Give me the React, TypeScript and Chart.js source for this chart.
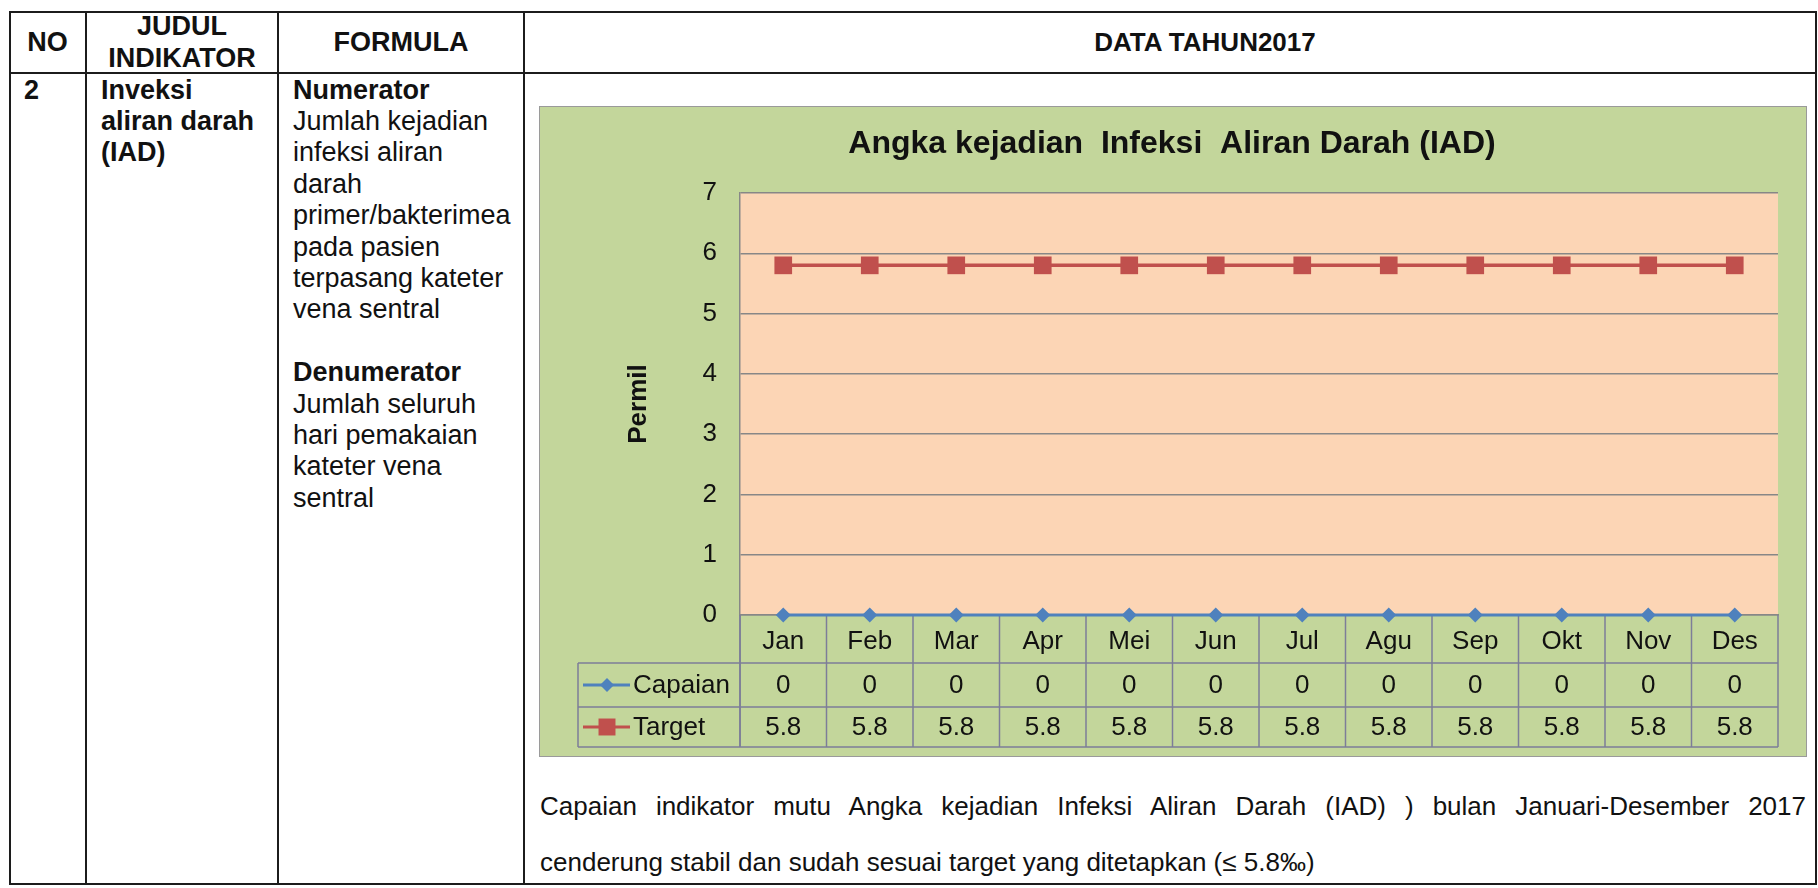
import React, { useEffect, useRef } from "react";
import { Chart, registerables } from "chart.js";

Chart.register(...registerables);

// ---------- data ----------
const categories = ["Jan", "Feb", "Mar", "Apr", "Mei", "Jun", "Jul", "Agu", "Sep", "Okt", "Nov", "Des"];
const capaian = [0, 0, 0, 0, 0, 0, 0, 0, 0, 0, 0, 0];
const target = [5.8, 5.8, 5.8, 5.8, 5.8, 5.8, 5.8, 5.8, 5.8, 5.8, 5.8, 5.8];
const yTicks = [0, 1, 2, 3, 4, 5, 6, 7];
const seriesNames = ["Capaian", "Target"];
const chartTitle = "Angka kejadian  Infeksi  Aliran Darah (IAD)";
const yAxisTitle = "Permil";

const headerJudul = ["JUDUL", "INDIKATOR"];
const judulLines = ["Inveksi", "aliran darah", "(IAD)"];
const formulaLines: [string, boolean][] = [
  ["Numerator", true],
  ["Jumlah kejadian", false],
  ["infeksi aliran", false],
  ["darah", false],
  ["primer/bakterimea", false],
  ["pada pasien", false],
  ["terpasang kateter", false],
  ["vena sentral", false],
  ["\u00a0", false],
  ["Denumerator", true],
  ["Jumlah seluruh", false],
  ["hari pemakaian", false],
  ["kateter vena", false],
  ["sentral", false],
];
const paragraph1 = "Capaian indikator mutu Angka kejadian Infeksi Aliran Darah (IAD) ) bulan Januari-Desember 2017";
const paragraph2 = "cenderung stabil dan sudah sesuai target yang ditetapkan (\u2264 5.8\u2030)";

// ---------- styles ----------
const FONT = "'Liberation Sans', Arial, Helvetica, sans-serif";
const BLUE = "#4F81BD";
const RED = "#C0504D";
const GREEN_BG = "#C3D69B";
const PLOT_BG = "#FCD5B5";
const GRID = "#878787";
const TABLE_LINE = "#7d7d99";
const TEXT = "#111111";

const plotBgPlugin = {
  id: "plotBg",
  beforeDraw(chart: any) {
    const { ctx, chartArea } = chart;
    ctx.save();
    ctx.fillStyle = PLOT_BG;
    ctx.fillRect(chartArea.left, chartArea.top, chartArea.right - chartArea.left, chartArea.bottom - chartArea.top);
    ctx.restore();
  },
};

function drawMarker(ctx: CanvasRenderingContext2D, style: string, x: number, y: number, r: number, color: string) {
  ctx.save();
  ctx.fillStyle = color;
  ctx.beginPath();
  if (style === "rectRot") {
    ctx.moveTo(x, y - r);
    ctx.lineTo(x + r, y);
    ctx.lineTo(x, y + r);
    ctx.lineTo(x - r, y);
    ctx.closePath();
  } else {
    const s = r * Math.SQRT1_2;
    ctx.rect(x - s, y - s, 2 * s, 2 * s);
  }
  ctx.fill();
  ctx.restore();
}

const dataTablePlugin = {
  id: "dataTable",
  beforeDatasetsDraw(chart: any) {
    const { ctx, chartArea, scales } = chart;
    const xs = scales.x;
    const n = chart.data.labels.length;
    const step = xs.getPixelForValue(1) - xs.getPixelForValue(0);
    const left = chartArea.left;
    const right = chartArea.right;
    const bottom = chartArea.bottom;
    const catRowH = 48;
    const rowHs = [44, 40];
    const legendLeft = 38;
    const catBottom = bottom + catRowH;
    const tableBottom = catBottom + rowHs[0] + rowHs[1];

    ctx.save();
    ctx.strokeStyle = TABLE_LINE;
    ctx.lineWidth = 1.5;
    const line = (x1: number, y1: number, x2: number, y2: number) => {
      ctx.beginPath();
      ctx.moveTo(x1, y1);
      ctx.lineTo(x2, y2);
      ctx.stroke();
    };
    for (let i = 0; i <= n; i++) {
      const px = i < n ? xs.getPixelForValue(i) - step / 2 : xs.getPixelForValue(n - 1) + step / 2;
      line(px, bottom, px, tableBottom);
    }
    line(legendLeft, catBottom, right, catBottom);
    line(legendLeft, catBottom + rowHs[0], right, catBottom + rowHs[0]);
    line(legendLeft, tableBottom, right, tableBottom);
    line(legendLeft, catBottom, legendLeft, tableBottom);
    line(left, bottom, left, tableBottom);

    ctx.font = `26px ${FONT}`;
    ctx.fillStyle = TEXT;
    ctx.textBaseline = "middle";
    let y0 = catBottom;
    chart.data.datasets.forEach((ds: any, r: number) => {
      const cy = y0 + rowHs[r] / 2;
      ctx.textAlign = "center";
      ds.data.forEach((v: number, i: number) => {
        ctx.fillText(String(v), xs.getPixelForValue(i), cy + 1);
      });
      // legend key
      ctx.save();
      ctx.strokeStyle = ds.borderColor;
      ctx.lineWidth = 3;
      ctx.beginPath();
      ctx.moveTo(legendLeft + 5, cy);
      ctx.lineTo(legendLeft + 52, cy);
      ctx.stroke();
      ctx.restore();
      drawMarker(ctx, ds.pointStyle, legendLeft + 29, cy, ds.pointStyle === "rect" ? 12 : 7, ds.backgroundColor);
      ctx.textAlign = "left";
      ctx.fillStyle = TEXT;
      ctx.fillText(ds.label, legendLeft + 55, cy + 1);
      y0 += rowHs[r];
    });
    ctx.restore();
  },
};

const abs = (left: number, top: number, extra: React.CSSProperties = {}): React.CSSProperties => ({
  position: "absolute",
  left,
  top,
  ...extra,
});

const LINE_C = "#1c1c1c";

export default function App() {
  const canvasRef = useRef<HTMLCanvasElement>(null);

  useEffect(() => {
    const chart = new Chart(canvasRef.current as HTMLCanvasElement, {
      type: "line",
      data: {
        labels: categories,
        datasets: [
          {
            label: seriesNames[0],
            data: capaian,
            borderColor: BLUE,
            backgroundColor: BLUE,
            borderWidth: 3,
            pointStyle: "rectRot",
            pointRadius: 7.5,
            pointBorderWidth: 0,
            clip: false,
          },
          {
            label: seriesNames[1],
            data: target,
            borderColor: RED,
            backgroundColor: RED,
            borderWidth: 3.5,
            pointStyle: "rect",
            pointRadius: 12.5,
            pointBorderWidth: 0,
            clip: false,
          },
        ],
      } as any,
      options: {
        responsive: false,
        animation: false,
        devicePixelRatio: 1,
        layout: { padding: { left: 26, right: 28, top: 0, bottom: 0 } },
        plugins: {
          legend: { display: false },
          tooltip: { enabled: false },
          title: {
            display: true,
            text: chartTitle,
            color: TEXT,
            font: { family: FONT, size: 32, weight: "bold", lineHeight: 1.2 },
            padding: { top: 18, bottom: 29.6 },
          },
        },
        scales: {
          x: {
            offset: true,
            grid: { display: false },
            border: { display: true, color: GRID, width: 1.5 },
            ticks: {
              font: { family: FONT, size: 26 },
              color: TEXT,
              padding: 3,
              maxRotation: 0,
              autoSkip: false,
            },
            afterFit: (s: any) => {
              s.height = 141;
            },
          },
          y: {
            min: 0,
            max: 7,
            afterBuildTicks: (s: any) => {
              s.ticks = yTicks.map((v) => ({ value: v }));
            },
            ticks: { font: { family: FONT, size: 26 }, color: TEXT, padding: 23 },
            grid: { color: GRID, lineWidth: 1.5, drawTicks: false },
            border: { display: true, color: GRID, width: 1.5 },
            title: {
              display: true,
              text: yAxisTitle,
              color: TEXT,
              font: { family: FONT, size: 26, weight: "bold", lineHeight: 1.2 },
              padding: { top: 57, bottom: 0 },
            },
            afterFit: (s: any) => {
              s.width = 174;
            },
          },
        },
      } as any,
      plugins: [plotBgPlugin, dataTablePlugin],
    });
    return () => chart.destroy();
  }, []);

  const boldHead: React.CSSProperties = {
    fontFamily: FONT,
    fontWeight: "bold",
    fontSize: 27,
    color: TEXT,
    textAlign: "center",
    lineHeight: "32px",
    whiteSpace: "nowrap",
  };

  const paraStyle: React.CSSProperties = {
    fontFamily: FONT,
    fontSize: 26,
    color: TEXT,
    lineHeight: "30px",
    whiteSpace: "nowrap",
  };

  return (
    <div style={{ position: "absolute", left: 0, top: 0, width: 1818, height: 888, background: "#ffffff", overflow: "hidden" }}>
      {/* table frame */}
      <div style={abs(9, 11, { width: 1808, height: 874, border: `2px solid ${LINE_C}`, boxSizing: "border-box" })} />
      <div style={abs(85, 11, { width: 2, height: 874, background: LINE_C })} />
      <div style={abs(277, 11, { width: 2, height: 874, background: LINE_C })} />
      <div style={abs(523, 11, { width: 2, height: 874, background: LINE_C })} />
      <div style={abs(9, 72, { width: 1808, height: 2, background: LINE_C })} />

      {/* headers */}
      <div style={abs(9, 26, { ...boldHead, width: 77 })}>NO</div>
      <div style={abs(86, 10, { ...boldHead, width: 192 })}>
        {headerJudul[0]}
        <br />
        {headerJudul[1]}
      </div>
      <div style={abs(278, 26, { ...boldHead, width: 246 })}>FORMULA</div>
      <div style={abs(1205 - 150, 26, { ...boldHead, width: 300, fontSize: 26 })}>DATA TAHUN2017</div>

      {/* row 2 */}
      <div style={abs(24, 74.6, { ...boldHead, textAlign: "left", lineHeight: "31.4px" })}>2</div>
      <div style={abs(101, 74.6, { ...boldHead, textAlign: "left", lineHeight: "31.4px" })}>
        {judulLines.map((t, i) => (
          <div key={i}>{t}</div>
        ))}
      </div>
      <div style={abs(293, 74.6, { fontFamily: FONT, fontSize: 27, color: TEXT, lineHeight: "31.4px", whiteSpace: "nowrap" })}>
        {formulaLines.map(([t, b], i) => (
          <div key={i} style={{ fontWeight: b ? "bold" : "normal" }}>
            {t}
          </div>
        ))}
      </div>

      {/* chart box */}
      <div style={abs(539, 106, { width: 1268, height: 651, background: GREEN_BG, border: "1px solid #9a9a9a", boxSizing: "border-box" })}>
        <canvas ref={canvasRef} width={1266} height={649} style={{ display: "block", width: 1266, height: 649 }} />
      </div>

      {/* comment paragraph */}
      <div
        style={abs(540, 791, {
          ...paraStyle,
          width: 1266,
          textAlign: "justify",
          textAlignLast: "justify",
        } as React.CSSProperties)}
      >
        {paragraph1}
      </div>
      <div style={abs(540, 847, paraStyle)}>{paragraph2}</div>
    </div>
  );
}
